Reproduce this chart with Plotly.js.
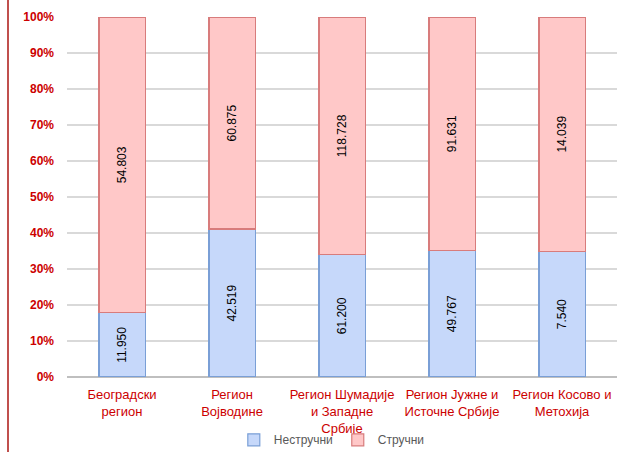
<!DOCTYPE html>
<html><head><meta charset="utf-8">
<script src="https://cdn.plot.ly/plotly-3.0.1.min.js"></script>
<style>html,body{margin:0;padding:0;background:#fff}#wrap{position:relative;width:632px;height:452px}#bar{position:absolute;left:7px;top:0;width:2px;height:452px;background:#c0504d}#chart{width:632px;height:452px}</style>
</head><body><div id="wrap"><div id="chart"></div><div id="bar"></div></div>
<script>
const categories = ["Београдски<br>регион","Регион<br>Војводине","Регион Шумадије<br>и Западне<br>Србије","Регион Јужне и<br>Источне Србије","Регион Косово и<br>Метохија"];
const nestrucni = [11.950, 42.519, 61.200, 49.767, 7.540];
const strucni = [54.803, 60.875, 118.728, 91.631, 14.039];
const seriesNames = ["Нестручни","Стручни"];
const yTickVals = [0,10,20,30,40,50,60,70,80,90,100];
const yTickText = yTickVals.map(v => v + "%");

const F = '"Liberation Sans Narrow","Arial Narrow","Liberation Sans",Arial,sans-serif';
const common = {type:'bar', x:categories, textposition:'inside', textangle:-90, insidetextanchor:'middle',
  textfont:{family:F, size:12, color:'#000'}, width:0.42, hoverinfo:'skip'};
const data = [
  Object.assign({}, common, {name:seriesNames[0], y:nestrucni, text:nestrucni.map(v=>v.toFixed(3)),
    marker:{color:'#c6d8fa', line:{color:'#7a9fd6', width:1.2}}}),
  Object.assign({}, common, {name:seriesNames[1], y:strucni, text:strucni.map(v=>v.toFixed(3)),
    marker:{color:'#ffc8c8', line:{color:'#d87c7c', width:1.2}}})
];
const layout = {
  width:632, height:452, barmode:'stack', barnorm:'percent',
  margin:{l:67, r:15, t:17, b:75},
  paper_bgcolor:'#fff', plot_bgcolor:'#fff',
  font:{family:F},
  xaxis:{automargin:false, tickfont:{family:F, size:13, color:'#cc0000'}, ticklabelstandoff:8, showgrid:false, showline:false, ticks:'', tickangle:0, fixedrange:true},
  yaxis:{automargin:false, range:[0,100], tickvals:yTickVals, ticktext:yTickText, ticklabelstandoff:12,
    tickfont:{family:F, size:12, color:'#cc0000', weight:'bold'},
    showgrid:true, gridcolor:'#d9d9d9', gridwidth:1.5, zeroline:true, zerolinecolor:'#bfbfbf', zerolinewidth:1.5, ticks:'', ticklen:0, showline:false},
  showlegend:true,
  legend:{orientation:'h', traceorder:'normal', xref:'container', yref:'container', x:0.525, xanchor:'center', y:0.027, yanchor:'middle',
    font:{family:F, size:12, color:'#595959'}, itemwidth:30, bgcolor:'rgba(0,0,0,0)'}
};
Plotly.newPlot('chart', data, layout, {staticPlot:true});
</script></body></html>
